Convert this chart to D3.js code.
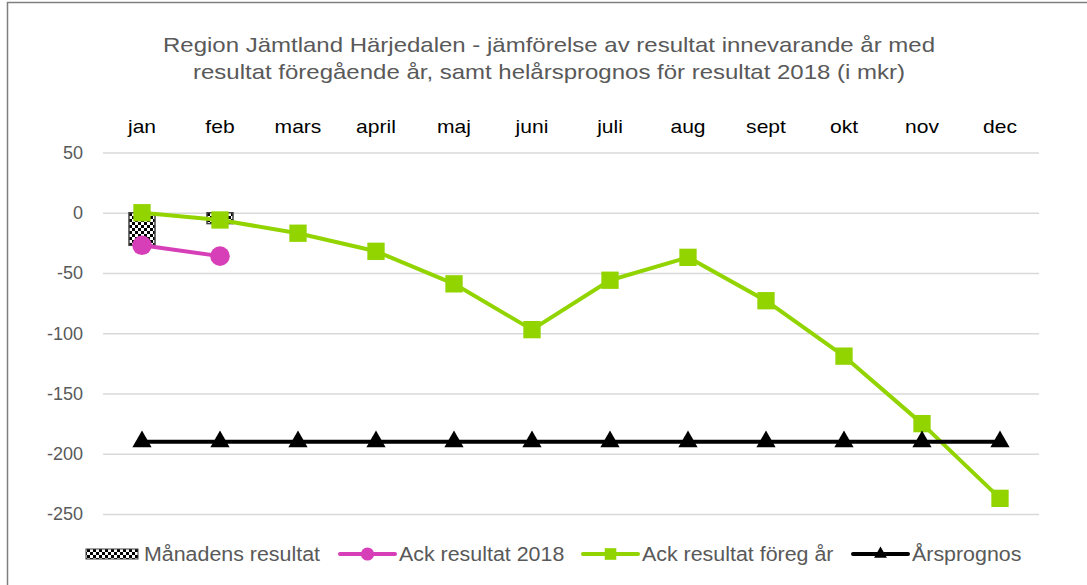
<!DOCTYPE html>
<html>
<head>
<meta charset="utf-8">
<script src="https://cdn.jsdelivr.net/npm/d3@7"></script>
<style>
  body { margin: 0; background: #fff; }
  svg { display: block; font-family: "Liberation Sans", Arial, sans-serif; }
</style>
</head>
<body>
<svg width="1087" height="585"></svg>
<script>
// data
var months = ["jan", "feb", "mars", "april", "maj", "juni", "juli", "aug", "sept", "okt", "nov", "dec"];
var manadens = [-27, -9];
var ack2018 = [-27, -36];
var ackForeg = [0, -6, -17, -32, -59, -97, -56, -37, -73, -119, -175, -237];
var prognos = [-190, -190, -190, -190, -190, -190, -190, -190, -190, -190, -190, -190];
var yTicks = [50, 0, -50, -100, -150, -200, -250];
var titleLines = ["Region Jämtland Härjedalen - jämförelse av resultat innevarande år med",
                  "resultat föregående år, samt helårsprognos för resultat 2018 (i mkr)"];

var svg = d3.select("svg");
var textCol = "#595959";

// pattern for the bars
var defs = svg.append("defs");
var pat = defs.append("pattern").attr("id", "checker")
    .attr("width", 6).attr("height", 6).attr("patternUnits", "userSpaceOnUse");
pat.append("rect").attr("width", 6).attr("height", 6).attr("fill", "#fff");
pat.append("rect").attr("width", 3).attr("height", 3).attr("fill", "#000");
pat.append("rect").attr("x", 3).attr("y", 3).attr("width", 3).attr("height", 3).attr("fill", "#000");

// chart border
svg.append("rect").attr("x", 7.5).attr("y", 2.5).attr("width", 1090).attr("height", 600)
    .attr("fill", "none").attr("stroke", "#7f7f7f").attr("stroke-width", 1.5);

var scaleX = d3.scaleBand().domain(months).range([103, 1039]);
var scaleY = d3.scaleLinear().domain([50, -250]).range([152.5, 514]);
function cx(i) { return scaleX(months[i]) + scaleX.bandwidth() / 2; }

// title (text in the original is drawn a bit wider)
svg.append("g").selectAll("text").data(titleLines).enter().append("text")
    .attr("transform", function(d, i) { return "translate(549," + (52 + i * 27) + ") scale(1.2,1)"; })
    .attr("text-anchor", "middle").attr("font-size", 20).attr("fill", textCol)
    .text(function(d) { return d; });

// gridlines + y labels
var yAxis = svg.append("g").attr("transform", "translate(103,0)")
    .call(d3.axisLeft(scaleY).tickValues(yTicks).tickSize(-936).tickPadding(20)
        .tickFormat(function(d) { return String(d); }));
yAxis.select(".domain").remove();
yAxis.selectAll(".tick line").attr("stroke", "#d9d9d9").attr("stroke-width", 1.5);
yAxis.selectAll(".tick text").attr("font-size", 18).attr("fill", textCol)
    .attr("font-family", "Liberation Sans, Arial, sans-serif");

// month labels at top
svg.append("g").selectAll("text").data(months).enter().append("text")
    .attr("transform", function(d) { return "translate(" + (scaleX(d) + scaleX.bandwidth() / 2) + ",133) scale(1.17,1)"; })
    .attr("text-anchor", "middle").attr("font-size", 18).attr("fill", "#000")
    .text(function(d) { return d; });

// bars
svg.append("g").selectAll("rect").data(manadens).enter().append("rect")
    .attr("x", function(d, i) { return cx(i) - 13; })
    .attr("y", function(d) { return scaleY(Math.max(0, d)); })
    .attr("width", 26)
    .attr("height", function(d) { return Math.abs(scaleY(d) - scaleY(0)); })
    .attr("fill", "url(#checker)").attr("stroke", "#404040").attr("stroke-width", 1.5);

var line = d3.line().x(function(d, i) { return cx(i); }).y(function(d) { return scaleY(d); });

var series = [
  { data: ack2018, color: "#d63fb7", marker: "circle" },
  { data: ackForeg, color: "#92d400", marker: "square" },
  { data: prognos, color: "#000000", marker: "triangle" }
];

series.forEach(function(s) {
  svg.append("path").datum(s.data).attr("d", line)
      .attr("fill", "none").attr("stroke", s.color).attr("stroke-width", 4)
      .attr("stroke-linejoin", "round");
});

var symbols = { circle: d3.symbolCircle, square: d3.symbolSquare, triangle: d3.symbolTriangle };
var sizes = { circle: 300, square: 300, triangle: 160 };
series.forEach(function(s) {
  svg.append("g").selectAll("path").data(s.data).enter().append("path")
      .attr("transform", function(d, i) { return "translate(" + cx(i) + "," + scaleY(d) + ")"; })
      .attr("d", d3.symbol().type(symbols[s.marker]).size(sizes[s.marker]))
      .attr("fill", s.color);
});

// legend
var legendItems = [
  { name: "Månadens resultat", type: "bar", x: 86 },
  { name: "Ack resultat 2018", type: "line", x: 340, s: series[0] },
  { name: "Ack resultat föreg år", type: "line", x: 583, s: series[1] },
  { name: "Årsprognos", type: "line", x: 853, s: series[2] }
];
var lg = svg.append("g");
legendItems.forEach(function(it) {
  var ly = 554;
  if (it.type == "bar") {
    lg.append("rect").attr("x", it.x).attr("y", ly - 5).attr("width", 52).attr("height", 10)
        .attr("fill", "url(#checker)").attr("stroke", "#404040").attr("stroke-width", 1);
  } else {
    lg.append("line").attr("x1", it.x).attr("x2", it.x + 55).attr("y1", ly).attr("y2", ly)
        .attr("stroke", it.s.color).attr("stroke-width", 4).attr("stroke-linecap", "round");
    lg.append("path").attr("transform", "translate(" + (it.x + 27.5) + "," + ly + ")")
        .attr("d", d3.symbol().type(symbols[it.s.marker]).size(sizes[it.s.marker] * 0.45))
        .attr("fill", it.s.color);
  }
  lg.append("text")
      .attr("transform", "translate(" + (it.x + (it.type == "bar" ? 58 : 59)) + "," + (ly + 7) + ") scale(1.07,1)")
      .attr("font-size", 20).attr("fill", textCol).text(it.name);
});
</script>
</body>
</html>
